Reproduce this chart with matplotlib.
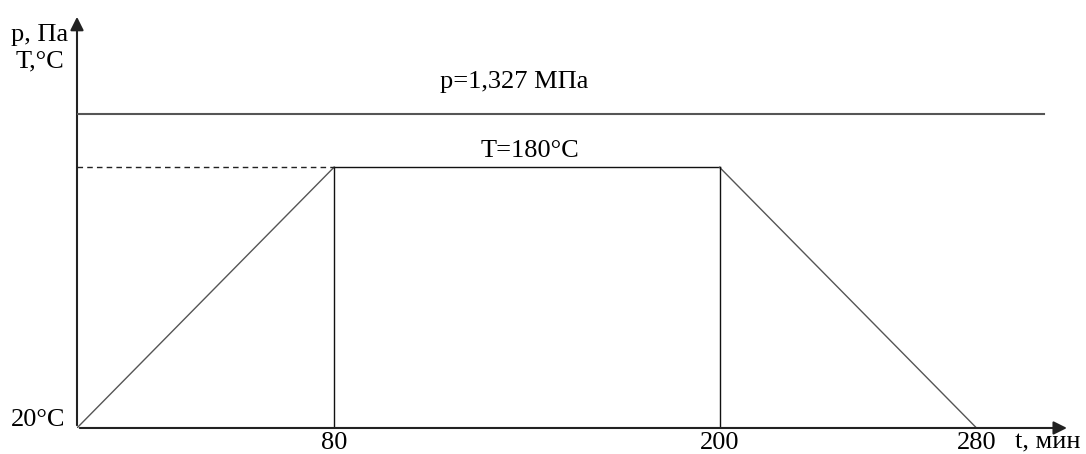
import matplotlib.pyplot as plt

plt.rcParams['font.family'] = ['Liberation Serif', 'DejaVu Serif']

# temperature profile, time in minutes
t_pts = [0, 80, 200, 280]
T_pts = [20, 180, 180, 20]
t_ticks = [80, 200, 280]
T_hold = 180
T_start = 20
p_val = 1.327   # MPa
t_p_end = 301

fig = plt.figure(figsize=(10.86, 4.54), dpi=100)
ax = fig.add_axes([0.0709, 0.0573, 0.9141, 0.9117])
ax.set_xlim(0, 309)
ax.set_ylim(20, 274)
ax.axis('off')

# axes with arrows
ax.annotate('', xy=(1, 0), xytext=(0, 0), xycoords='axes fraction',
            arrowprops=dict(arrowstyle='-|>', color='#222222', lw=1.5, mutation_scale=20))
ax.annotate('', xy=(0, 1), xytext=(0, 0), xycoords='axes fraction',
            arrowprops=dict(arrowstyle='-|>', color='#222222', lw=1.5, mutation_scale=20))

# temperature curve
ax.plot(t_pts[:2], T_pts[:2], color='#555555', lw=1.0)
ax.plot(t_pts[1:3], T_pts[1:3], color='#111111', lw=1.0)
ax.plot(t_pts[2:], T_pts[2:], color='#555555', lw=1.0)
ax.plot([t_pts[1], t_pts[1]], [T_start, T_hold], color='#111111', lw=1.0)
ax.plot([t_pts[2], t_pts[2]], [T_start, T_hold], color='#111111', lw=1.0)
ax.plot([0, t_pts[1]], [T_hold, T_hold], color='#222222', lw=1.0, ls=(0, (4, 3)))

# pressure line on its own scale
axp = ax.twinx()
axp.set_ylim(0, 1.75)
axp.axis('off')
axp.plot([0, t_p_end], [p_val, p_val], color='#555555', lw=1.5)

fs = 19
axp.text(136, p_val + 0.09, 'p=' + str(p_val).replace('.', ',') + ' МПа',
         ha='center', va='bottom', fontsize=fs)
ax.text(141, T_hold + 3, 'T=' + str(T_hold) + '°C', ha='center', va='bottom', fontsize=fs)

for t in t_ticks:
    ax.text(t, 17.8, str(t), ha='center', va='top', fontsize=fs)
ax.text(292, 17.8, 't, мин', ha='left', va='top', fontsize=fs)
ax.text(-3.5, 25, str(T_start) + '°C', ha='right', va='center', fontsize=fs)
ax.text(-20.5, 261, 'p, Па', ha='left', va='center', fontsize=fs)
ax.text(-19, 245, 'T,°C', ha='left', va='center', fontsize=fs)

fig.savefig('out.png', dpi=100, facecolor='white')
